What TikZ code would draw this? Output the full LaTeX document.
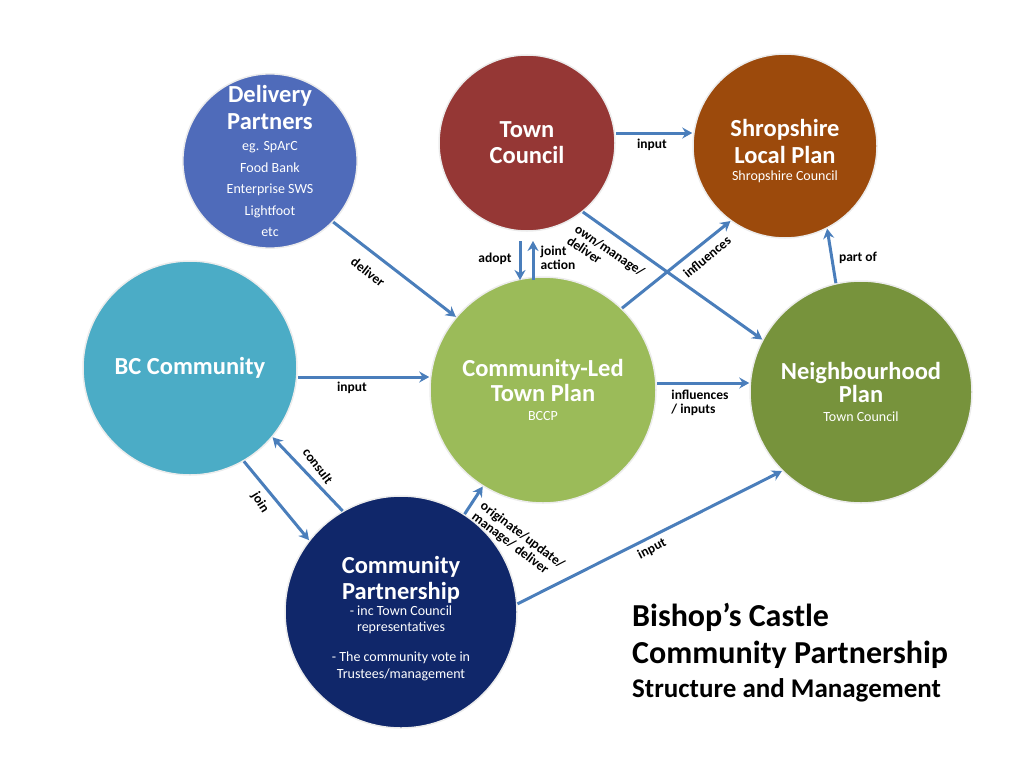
\documentclass[tikz,border=0pt]{standalone}
\usepackage{fontspec}
\setmainfont{Carlito}
\usetikzlibrary{arrows.meta}
\definecolor{cDP}{HTML}{4F6BBA}
\definecolor{cTC}{HTML}{953735}
\definecolor{cSLP}{HTML}{9C4A0C}
\definecolor{cBC}{HTML}{4BACC6}
\definecolor{cCL}{HTML}{9BBB59}
\definecolor{cNP}{HTML}{77933C}
\definecolor{cCP}{HTML}{10276A}
\definecolor{cArr}{HTML}{4A7EBB}
\newcommand{\tbig}{\fontsize{24.5}{21.5}\selectfont\bfseries}
\newcommand{\tsml}{\fontsize{14}{21.5}\selectfont\mdseries}
\tikzset{
  circ/.style={circle, inner sep=0pt, text=white, align=center, draw=white!85!gray, line width=1.5pt},
  ctext/.style={text=white, align=center, inner sep=0pt},
  arr/.style={draw=cArr, line width=3pt, -{Stealth[length=10pt,width=11pt]}},
  lab/.style={font=\fontsize{13.5}{14}\selectfont\bfseries, text=black, inner sep=1pt},
  ttl/.style={text=black, anchor=west, inner sep=0pt}
}
\begin{document}
\begin{tikzpicture}[x=1pt,y=-1pt]
\useasboundingbox (0,0) rectangle (1024,768);
% circles
\node[circ, fill=cDP, minimum size=156pt, font=\fontsize{14}{21.5}\selectfont] (dp) at (270,161) {\tbig Delivery\\[5.5pt]\tbig Partners\\\tsml eg. SpArC\\\tsml Food Bank\\\tsml Enterprise SWS\\\tsml Lightfoot\\\tsml etc};
\node[circ, fill=cTC, minimum size=176pt, font=\fontsize{14}{21.5}\selectfont] (tc) at (527,143) {\tbig Town\\[4.5pt]\tbig Council};
\node[circ, fill=cSLP, minimum size=184pt] (slp) at (785,146) {};
\node[ctext, font=\fontsize{14}{21.5}\selectfont] (slpt) at (785,151) {\tbig Shropshire\\[5.5pt]\tbig Local Plan\\[-5pt]\tsml Shropshire Council};
\node[circ, fill=cBC, minimum size=214pt, font=\fontsize{14}{21.5}\selectfont] (bc) at (190,368) {\tbig BC Community};
\node[circ, fill=cCL, minimum size=226pt, font=\fontsize{14}{21.5}\selectfont] (cl) at (543,390) {\tbig Community-Led\\[3.5pt]\tbig Town Plan\\[-2.5pt]\tsml BCCP};
\node[circ, fill=cNP, minimum size=222pt, font=\fontsize{14}{21.5}\selectfont] (np) at (861,392) {\tbig Neighbourhood\\[1.5pt]\tbig Plan\\[-2.5pt]\tsml Town Council};
\node[circ, fill=cCP, minimum size=232pt] (cp) at (401,612) {};
\node[ctext, font=\fontsize{14}{16.5}\selectfont] (cpt) at (401,618.5) {\tbig Community\\[3.5pt]\tbig Partnership\\[-0.5pt]\tsml - inc Town Council\\\tsml representatives\\[13.5pt]\tsml - The community vote in\\\tsml Trustees/management};
% arrows
\draw[arr] (tc.east |- 0,133) -- (slp.west |- 0,133);
\node[lab] (l1) at (652,145) {input};
\draw[arr] (dp.-44) -- (cl.140);
\node[lab, rotate=-38] (l2) at (368,272) {deliver};
\draw[arr] (520,241) -- (520,280);
\draw[arr] (533,280) -- (533,241);
\node[lab] (l3) at (495,259) {adopt};
\node[lab, align=left] (l4) at (558,258) {joint\\action};
\draw[arr] (tc.-51) -- (np.152);
\node[lab, rotate=-34, align=left] (l5) at (606,256) {own/manage/\\deliver};
\draw[arr] (cl.46) -- (slp.-126);
\node[lab, rotate=40] (l6) at (707,257) {influences};
\draw[arr] (np.103) -- (slp.-63);
\node[lab] (l7) at (858,258) {part of};
\draw[arr] (bc.east |- 0,377) -- (cl.west |- 0,377);
\node[lab] (l8) at (352,388) {input};
\draw[arr] (cl.east |- 0,383) -- (np.west |- 0,383);
\node[lab, align=left] (l9) at (700,403) {influences\\/ inputs};
\draw[arr] (bc.-60) -- (cp.142);
\node[lab, rotate=-58] (l10) at (260,503) {join};
\draw[arr] (cp.120) -- (bc.-40);
\node[lab, rotate=-53] (l11) at (318,466) {consult};
\draw[arr] (cp.57) -- (cl.-122);
\node[lab, rotate=-37, align=left] (l12) at (518,541) {originate/update/\\manage/ deliver};
\draw[arr] (cp.4) -- (np.-135);
\node[lab, rotate=27] (l13) at (652,549) {input};
% title
\node[ttl, font=\fontsize{32}{36}\selectfont\bfseries] (t1) at (632,617) {Bishop’s Castle};
\node[ttl, font=\fontsize{32}{36}\selectfont\bfseries] (t2) at (632,655) {Community Partnership};
\node[ttl, font=\fontsize{27}{30}\selectfont\bfseries] (t3) at (632,690) {Structure and Management};
\end{tikzpicture}
\end{document}
